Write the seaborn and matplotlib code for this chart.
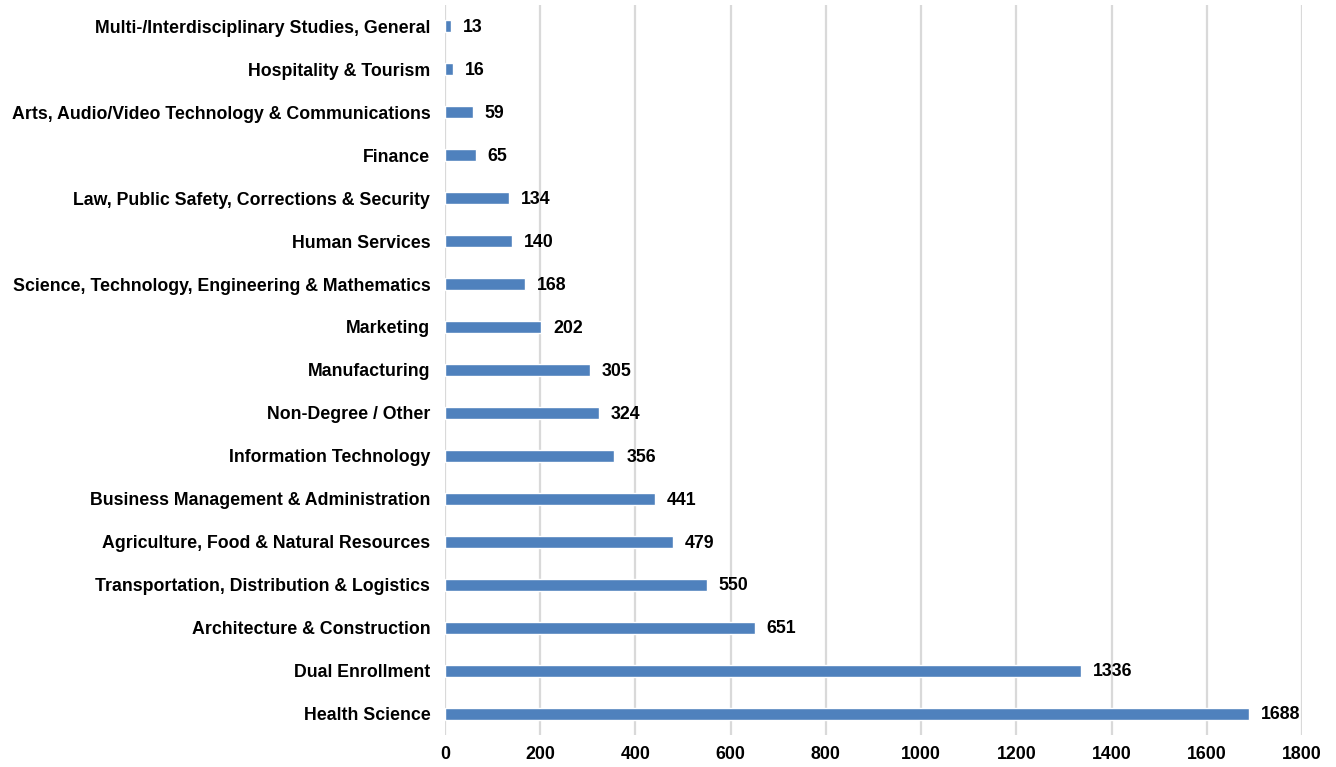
import matplotlib
matplotlib.use('Agg')
import matplotlib.pyplot as plt
import seaborn as sns
import pandas as pd

# career clusters, top to bottom as shown
clusters = [
    'Multi-/Interdisciplinary Studies, General',
    'Hospitality & Tourism',
    'Arts, Audio/Video Technology & Communications',
    'Finance',
    'Law, Public Safety, Corrections & Security',
    'Human Services',
    'Science, Technology, Engineering & Mathematics',
    'Marketing',
    'Manufacturing',
    'Non-Degree / Other',
    'Information Technology',
    'Business Management & Administration',
    'Agriculture, Food & Natural Resources',
    'Transportation, Distribution & Logistics',
    'Architecture & Construction',
    'Dual Enrollment',
    'Health Science',
]
counts = [13, 16, 59, 65, 134, 140, 168, 202, 305, 324, 356, 441, 479, 550, 651, 1336, 1688]
x_ticks = [0, 200, 400, 600, 800, 1000, 1200, 1400, 1600, 1800]

df = pd.DataFrame({'cluster': clusters, 'count': counts})

sns.set_style('white')
plt.rcParams['font.family'] = ['Liberation Sans', 'DejaVu Sans']
plt.rcParams['text.color'] = 'black'
plt.rcParams['xtick.color'] = 'black'
plt.rcParams['ytick.color'] = 'black'

fig = plt.figure(figsize=(13.36, 7.67), dpi=100)
ax = fig.add_axes([0.333, 0.0417, 0.6416, 0.952])

sns.barplot(data=df, x='count', y='cluster', order=clusters, color='#4F81BD',
            saturation=1, width=0.28, ax=ax)

ax.set_xlim(0, 1800)
ax.set_ylim(16.5, -0.5)
fs = 12.8
ax.set_xticks(x_ticks)
ax.set_xticklabels([str(t) for t in x_ticks], fontsize=fs, fontweight='bold')
ax.set_yticks(range(len(clusters)))
ax.set_yticklabels(clusters, fontsize=fs, fontweight='bold')
ax.tick_params(axis='y', length=0, pad=10.5, labelcolor='black')
ax.tick_params(axis='x', length=0, pad=8, labelcolor='black')
ax.set_xlabel('')
ax.set_ylabel('')

ax.xaxis.grid(True, color='#D9D9D9', linewidth=1.6)
ax.set_axisbelow(True)
for s in ax.spines.values():
    s.set_visible(False)

for i, v in enumerate(counts):
    ax.text(v + 25, i + 0.03, str(v), va='center', ha='left', fontsize=fs,
            fontweight='bold', color='black')

fig.savefig('out.png', dpi=100)
